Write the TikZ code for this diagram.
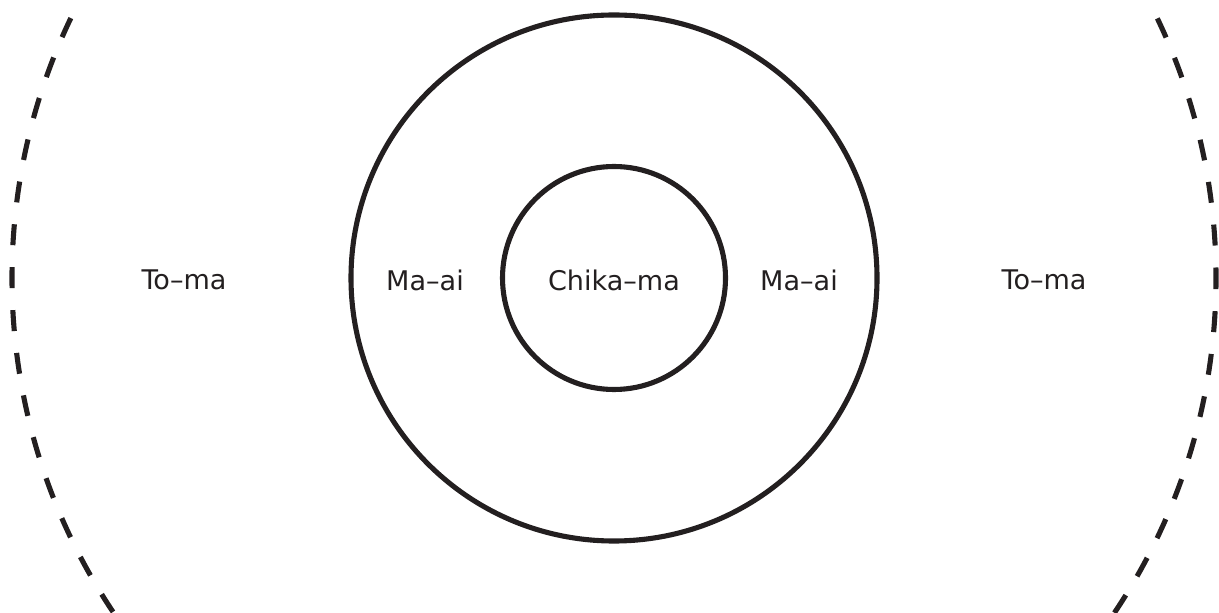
\documentclass[tikz,border=0pt]{standalone}
\usepackage{fontspec}
\setmainfont{DejaVu Sans}
\usetikzlibrary{positioning}
\definecolor{mInk}{HTML}{231F20}
\newcommand{\zlabel}[3]{%
 \node[zonelabel] (#1) at (#2,3.32) {#3};}

\begin{document}
\begin{tikzpicture}[
  ring/.style={draw=mInk, line width=1.45pt},
  farring/.style={draw=mInk, line width=1.45pt, dash pattern=on 0.21cm off 0.2198cm, dash phase=0.105cm},
  zonelabel/.style={font=\fontsize{7.7}{9}\selectfont, text=mInk, inner sep=0pt}]
\clip (0,0) rectangle (12.19,6.12);
\coordinate (c) at (6.14,3.34);
% rings
\draw[farring] (c) circle (6.02);
\draw[ring] (c) circle (2.63);
\draw[ring] (c) circle (1.115);
% zone names
\zlabel{tomaL}{1.84}{To–ma}
\zlabel{maaiL}{4.25}{Ma–ai}
\zlabel{chika}{6.14}{Chika–ma}
\zlabel{maaiR}{7.99}{Ma–ai}
\zlabel{tomaR}{10.44}{To–ma}
\end{tikzpicture}
\end{document}
